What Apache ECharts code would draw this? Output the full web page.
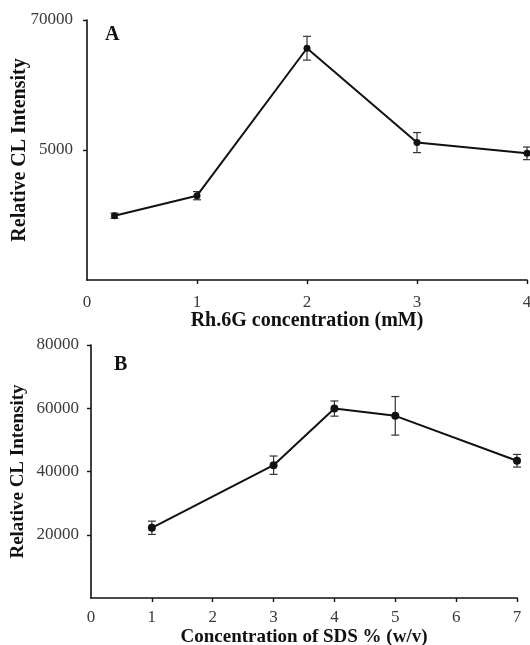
<!DOCTYPE html>
<html>
<head>
<meta charset="utf-8">
<script src="https://cdn.jsdelivr.net/npm/echarts@6/dist/echarts.min.js"></script>
<style>
  html, body { margin: 0; padding: 0; background: #fff; }
  #chart { width: 530px; height: 645px; }
</style>
</head>
<body>
<div id="chart"></div>
<script>
// Panel A: Rh.6G concentration
const rhConc = [0.25, 1, 2, 3, 4];
const rhIntensity = [17300, 22700, 62400, 37000, 34100];
const rhError = [700, 1100, 3200, 2700, 1700];
const rhXTicks = [0, 1, 2, 3, 4];
// the original figure labels the 35000 tick as "5000"
const rhYTickValues = [35000, 70000];
const rhYTickLabels = ['5000', '70000'];

// Panel B: SDS concentration
const sdsConc = [1, 3, 4, 5, 7];
const sdsIntensity = [22200, 42000, 59900, 57600, 43400];
const sdsError = [2100, 2900, 2400, 6100, 2000];
const sdsXTicks = [0, 1, 2, 3, 4, 5, 6, 7];
const sdsYTicks = [20000, 40000, 60000, 80000];

const serif = "'Liberation Serif', 'Times New Roman', serif";
const chart = echarts.init(document.getElementById('chart'));

const errorBars = (params, api) => {
  const x = api.value(0), y = api.value(1), e = api.value(2);
  const top = api.coord([x, y + e]);
  const bot = api.coord([x, y - e]);
  const w = 4;
  const style = { stroke: '#333', lineWidth: 1.2 };
  return {
    type: 'group',
    children: [
      { type: 'line', shape: { x1: top[0], y1: top[1], x2: bot[0], y2: bot[1] }, style },
      { type: 'line', shape: { x1: top[0] - w, y1: top[1], x2: top[0] + w, y2: top[1] }, style },
      { type: 'line', shape: { x1: bot[0] - w, y1: bot[1], x2: bot[0] + w, y2: bot[1] }, style }
    ]
  };
};

const axisCommon = {
  axisLine: { lineStyle: { color: '#111', width: 1.6 } },
  splitLine: { show: false },
  nameLocation: 'middle',
  nameMoveOverlap: false,
  nameTextStyle: { fontFamily: serif, fontWeight: 'bold', color: '#111' }
};
const tickStyle = { lineStyle: { color: '#111', width: 1.4 }, length: 4 };
const labelStyle = { fontFamily: serif, fontSize: 17, color: '#3a3a3a', formatter: v => String(v) };

const option = {
  animation: false,
  backgroundColor: '#fff',
  title: [
    { text: 'A', left: 100, top: 20, textStyle: { fontFamily: serif, fontWeight: 'bold', fontSize: 20, color: '#111' } },
    { text: 'B', left: 109, top: 350, textStyle: { fontFamily: serif, fontWeight: 'bold', fontSize: 20, color: '#111' } }
  ],
  grid: [
    { left: 87, right: 3, top: 20, height: 260, outerBoundsMode: 'none' },
    { left: 91, right: 13, top: 345, height: 253, outerBoundsMode: 'none' }
  ],
  xAxis: [
    {
      ...axisCommon,
      gridIndex: 0, type: 'value', min: 0, max: 4, interval: 1,
      name: 'Rh.6G concentration (mM)', nameGap: 31,
      nameTextStyle: { ...axisCommon.nameTextStyle, fontSize: 20 },
      axisTick: { ...tickStyle, customValues: rhXTicks.slice(1) },
      axisLabel: { ...labelStyle, margin: 14, customValues: rhXTicks }
    },
    {
      ...axisCommon,
      gridIndex: 1, type: 'value', min: 0, max: 7, interval: 1,
      name: 'Concentration of SDS % (w/v)', nameGap: 30,
      nameTextStyle: { ...axisCommon.nameTextStyle, fontSize: 19 },
      axisTick: { ...tickStyle, customValues: sdsXTicks.slice(1) },
      axisLabel: { ...labelStyle, margin: 11, customValues: sdsXTicks }
    }
  ],
  yAxis: [
    {
      ...axisCommon,
      gridIndex: 0, type: 'value', min: 0, max: 70000, interval: 35000,
      name: 'Relative CL Intensity', nameGap: 57,
      nameTextStyle: { ...axisCommon.nameTextStyle, fontSize: 20 },
      axisTick: { ...tickStyle, customValues: rhYTickValues },
      axisLabel: {
        ...labelStyle, margin: 14, customValues: rhYTickValues,
        formatter: v => rhYTickLabels[rhYTickValues.indexOf(v)] || ''
      }
    },
    {
      ...axisCommon,
      gridIndex: 1, type: 'value', min: 0, max: 80000, interval: 20000,
      name: 'Relative CL Intensity', nameGap: 63,
      nameTextStyle: { ...axisCommon.nameTextStyle, fontSize: 19 },
      axisTick: { ...tickStyle, customValues: sdsYTicks },
      axisLabel: { ...labelStyle, margin: 12, customValues: sdsYTicks }
    }
  ],
  series: [
    {
      type: 'custom', xAxisIndex: 0, yAxisIndex: 0, renderItem: errorBars,
      data: rhConc.map((x, i) => [x, rhIntensity[i], rhError[i]]), z: 1
    },
    {
      type: 'line', xAxisIndex: 0, yAxisIndex: 0,
      data: rhConc.map((x, i) => [x, rhIntensity[i]]),
      symbol: 'circle', symbolSize: 7,
      lineStyle: { color: '#111', width: 2 },
      itemStyle: { color: '#111' }, z: 2
    },
    {
      type: 'custom', xAxisIndex: 1, yAxisIndex: 1, renderItem: errorBars,
      data: sdsConc.map((x, i) => [x, sdsIntensity[i], sdsError[i]]), z: 1
    },
    {
      type: 'line', xAxisIndex: 1, yAxisIndex: 1,
      data: sdsConc.map((x, i) => [x, sdsIntensity[i]]),
      symbol: 'circle', symbolSize: 8,
      lineStyle: { color: '#111', width: 2 },
      itemStyle: { color: '#111' }, z: 2
    }
  ]
};

chart.setOption(option);
</script>
</body>
</html>
